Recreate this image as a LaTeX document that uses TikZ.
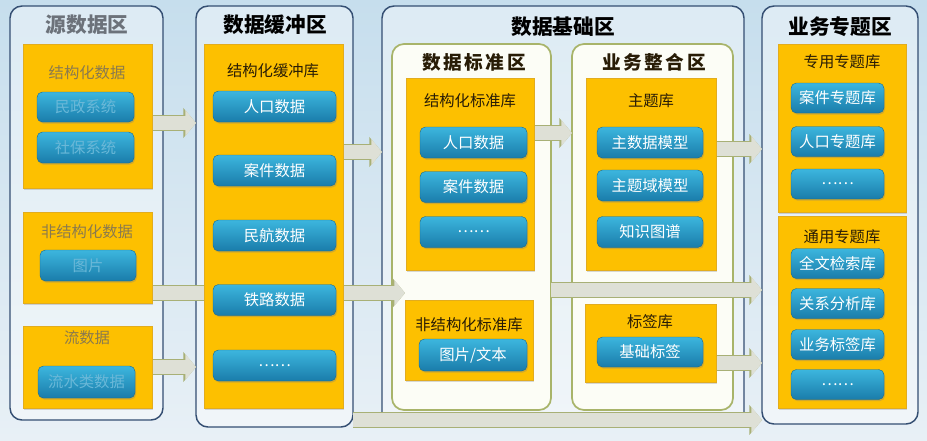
\documentclass[tikz,border=0pt]{standalone}
\usepackage{fontspec}
\setmainfont{Noto Sans CJK SC}
\usetikzlibrary{arrows.meta,shadows}

\definecolor{skytop}{RGB}{198,222,237}
\definecolor{skybot}{RGB}{232,240,246}
\definecolor{zoneline}{RGB}{52,78,114}
\definecolor{subline}{RGB}{168,180,106}
\definecolor{subfill}{RGB}{252,253,246}
\definecolor{amber}{RGB}{253,192,0}
\definecolor{amberline}{RGB}{226,172,30}
\definecolor{btntop}{RGB}{60,182,222}
\definecolor{btnbot}{RGB}{26,124,170}
\definecolor{arrfill}{RGB}{222,224,214}
\definecolor{arredge}{RGB}{168,176,118}
\definecolor{fadegray}{RGB}{108,114,122}
\definecolor{fadeolive}{RGB}{138,122,78}
\definecolor{fadeblue}{RGB}{106,184,216}
\definecolor{inkbrown}{RGB}{40,28,6}

\pgfdeclarelayer{bg}
\pgfdeclarelayer{mid}
\pgfsetlayers{bg,mid,main}

\tikzset{
  sz/.style 2 args={minimum width=#1*0.75pt, minimum height=#2*0.75pt},
  zone/.style={draw=zoneline, line width=1.1pt, rounded corners=9pt, fill=white, fill opacity=0.4, inner sep=0pt, outer sep=0pt},
  subzone/.style={draw=subline, line width=1.3pt, rounded corners=9pt, fill=subfill, inner sep=0pt, outer sep=0pt},
  ybox/.style={fill=amber, draw=amberline, line width=0.4pt, inner sep=0pt, outer sep=0pt,
    drop shadow={shadow xshift=1pt, shadow yshift=-1.2pt, opacity=0.3}},
  btn/.style={top color=btntop, bottom color=btnbot, draw=btnbot!85!black, line width=0.3pt,
    rounded corners=4pt, text=white, inner sep=0pt, outer sep=0pt,
    font=\fontsize{11.5}{14}\selectfont,
    drop shadow={shadow xshift=0.8pt, shadow yshift=-1.2pt, opacity=0.35}},
  fadebtn/.style={btn, text=fadeblue},
  ztitle/.style={font=\fontsize{15.5}{18}\selectfont\bfseries, text=black},
  stitle/.style={font=\fontsize{14}{17}\selectfont\bfseries\addfontfeatures{LetterSpace=14}, text=inkbrown},
  ytitle/.style={font=\fontsize{11.5}{14}\selectfont, text=inkbrown},
  fat/.style={draw=arrfill, line width=10pt, -{Triangle[length=8pt, width=19pt]},
    preaction={draw=arredge, line width=11.6pt, -{Triangle[length=9.5pt, width=22pt]}}}
}

\begin{document}
\begin{tikzpicture}[x=0.75pt, y=-0.75pt]
  \useasboundingbox (0,0) rectangle (927,440);

  \begin{pgfonlayer}{bg}
    \fill[top color=skytop, bottom color=skybot] (0,0) rectangle (927,440);
    % four zones
    \node[zone, sz={153}{414}] (zsrc) at (86.5,213) {};
    \node[zone, sz={157}{421}] (zbuf) at (274.5,216.5) {};
    \node[zone, sz={362}{421}] (zbase) at (563,216.5) {};
    \node[zone, sz={156}{418}] (ztopic) at (840,215) {};
    % sub zones of the base zone
    \node[subzone, sz={159}{366}] (zstd) at (471.5,227) {};
    \node[subzone, sz={161}{366}] (zint) at (652.5,227) {};
  \end{pgfonlayer}

  % zone titles
  \node[ztitle, text=fadegray] (tsrc) at (87,25) {源数据区};
  \node[ztitle] (tbuf) at (275,25) {数据缓冲区};
  \node[ztitle] (tbase) at (563,27) {数据基础区};
  \node[ztitle] (ttopic) at (840,27) {业务专题区};
  \node[stitle] (tstd) at (474,62) {数据标准区};
  \node[stitle] (tint) at (654,62) {业务整合区};

  % source zone
  \node[ybox, sz={129}{144}] (srcS) at (87.5,116) {};
  \node[ybox, sz={129}{91}] (srcU) at (87.5,257.5) {};
  \node[ybox, sz={129}{82}] (srcF) at (87.5,367) {};
  \node[ytitle, text=fadeolive] (tsrcS) at (87,73) {结构化数据};
  \node[ytitle, text=fadeolive] (tsrcU) at (87,232) {非结构化数据};
  \node[ytitle, text=fadeolive] (tsrcF) at (87,338) {流数据};
  \node[fadebtn, sz={97}{30}] (bcivil) at (85.5,107) {民政系统};
  \node[fadebtn, sz={97}{31}] (bsocial) at (85.5,147.5) {社保系统};
  \node[fadebtn, sz={96}{31}] (bimage) at (88,265.5) {图片};
  \node[fadebtn, sz={97}{32}] (bflow) at (86.5,382) {流水类数据};

  % buffer zone
  \node[ybox, sz={139}{364}] (buf) at (273.5,226) {};
  \node[ytitle] (tbufS) at (273,71) {结构化缓冲库};
  \foreach \name/\yy/\txt in {bpop/106.5/人口数据, bcase/170.5/案件数据, bair/235.5/民航数据,
                              brail/300/铁路数据, bmore/365.5/……}
    \node[btn, sz={123}{31}] (\name) at (274.5,\yy) {\txt};

  % standard zone
  \node[ybox, sz={128}{192}] (stdS) at (470,174) {};
  \node[ybox, sz={128}{80}] (stdU) at (469,340) {};
  \node[ytitle] (tstdS) at (470,101) {结构化标准库};
  \node[ytitle] (tstdU) at (469,325) {非结构化标准库};
  \foreach \name/\yy/\txt in {spop/142.5/人口数据, scase/187/案件数据, smore/232/……}
    \node[btn, sz={107}{31}] (\name) at (473.5,\yy) {\txt};
  \node[btn, sz={108}{32}] (stext) at (473,355) {图片/文本};

  % integration zone
  \node[ybox, sz={130}{192}] (subj) at (651,174) {};
  \node[ybox, sz={131}{78}] (tagl) at (650.5,343) {};
  \node[ytitle] (tsubj) at (651,101) {主题库};
  \node[ytitle] (ttagl) at (650,322) {标签库};
  \foreach \name/\yy/\txt in {imaster/142.5/主数据模型, idomain/185.5/主题域模型, igraph/232/知识图谱}
    \node[btn, sz={106}{31}] (\name) at (650,\yy) {\txt};
  \node[btn, sz={106}{30}] (ibase) at (650,352) {基础标签};

  % topic zone
  \node[ybox, sz={128}{168}] (spec) at (842,128) {};
  \node[ybox, sz={128}{192}] (gen) at (842,312) {};
  \node[ytitle] (tspec) at (842,62) {专用专题库};
  \node[ytitle] (tgen) at (842,237) {通用专题库};
  \foreach \name/\yy/\txt in {pcase/98/案件专题库, ppop/141.5/人口专题库, pmore/184/……,
                              gfull/263.5/全文检索库, grel/303.5/关系分析库, gtag/344.5/业务标签库,
                              gmore/384.5/……}
    \node[btn, sz={93}{30}] (\name) at (837.5,\yy) {\txt};

  % flow arrows, under the boxes
  \begin{pgfonlayer}{mid}
    \coordinate (a1) at ([yshift=-5.25pt]srcS.east);
    \coordinate (a2) at ([yshift=55.5pt]buf.east);
    \coordinate (a3) at ([yshift=-26.6pt]srcU.east);
    \coordinate (a4) at (srcF.east);
    \coordinate (a5) at ([yshift=30.75pt]stdS.east);
    \coordinate (a6) at ([yshift=18.75pt]subj.east);
    \coordinate (a7) at ([yshift=-47.25pt]zstd.east);
    \coordinate (a8) at ([yshift=-15pt]tagl.east);
    \coordinate (a9) at ([yshift=-152.6pt]zbuf.east);
    \draw[fat] (a1) -- (a1 -| zbuf.west);
    \draw[fat] (a2) -- (a2 -| zbase.west);
    \draw[fat] (a3) -- (a3 -| stdU.west);
    \draw[fat] (a4) -- (a4 -| zbuf.west);
    \draw[fat] (a5) -- (a5 -| zint.west);
    \draw[fat] (a6) -- (a6 -| ztopic.west);
    \draw[fat] (a7) -- (a7 -| ztopic.west);
    \draw[fat] (a8) -- (a8 -| ztopic.west);
    \draw[fat, line width=11pt] (a9) -- (a9 -| ztopic.west);
  \end{pgfonlayer}
\end{tikzpicture}
\end{document}
